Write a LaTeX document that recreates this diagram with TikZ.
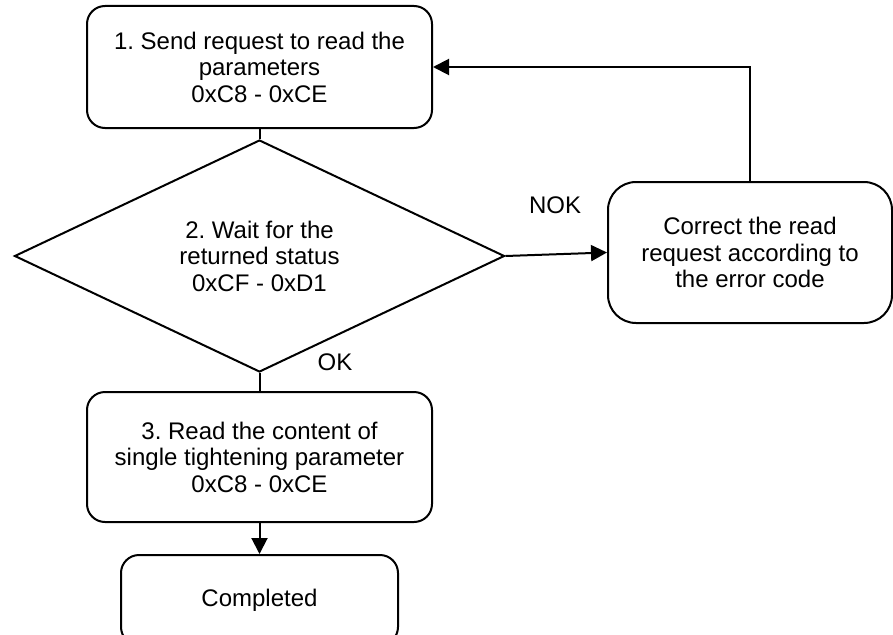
\documentclass[tikz,border=0pt]{standalone}
\usepackage{fontspec}
\setmainfont{Liberation Sans}
\usetikzlibrary{arrows.meta,shapes.geometric}
\frenchspacing

\begin{document}
\begin{tikzpicture}[
  x=1pt,
  y=-1pt,
  font=\fontsize{24}{26.5}\selectfont,
  stepbox/.style={draw=black,line width=2pt,rounded corners=18pt,align=center,inner sep=0pt},
  decision/.style={draw=black,line width=2pt,diamond,align=center,inner sep=0pt,minimum width=490pt,minimum height=232pt},
  link/.style={draw=black,line width=2pt},
  flow/.style={link,-{Triangle[length=16pt,width=16pt]}}
]
  \useasboundingbox (0,0) rectangle (893,634);
  \clip (0,0) rectangle (893,634);

  % Main column: request, status check, read, done.
  \node[stepbox,minimum width=345pt,minimum height=122pt] (send) at (259.5,67)
    {1. Send request to read the\\parameters\\0xC8 - 0xCE};
  \node[decision] (wait) at (259.5,256)
    {2. Wait for the\\returned status\\0xCF - 0xD1};
  \node[stepbox,minimum width=345pt,minimum height=130pt] (read) at (259.5,457)
    {3. Read the content of\\single tightening parameter\\0xC8 - 0xCE};
  \node[stepbox,minimum width=277pt,minimum height=90pt] (done) at (259.5,600)
    {Completed};

  % Error branch on the right.
  \node[stepbox,rounded corners=28pt,minimum width=284pt,minimum height=141pt] (corr) at (750,252.5)
    {Correct the read\\request according to\\the error code};

  % Branch labels.
  \node (nok) at (555,205) {NOK};
  \node (ok) at (335,362) {OK};

  % Connectors.
  \draw[link] (send.south) -- (wait.north);
  \draw[flow] (wait.east) -- (corr.west);
  \draw[flow] (corr.north) |- (send.east);
  \draw[link] (wait.south) -- (read.north);
  \draw[flow] (read.south) -- (done.north);
\end{tikzpicture}
\end{document}
